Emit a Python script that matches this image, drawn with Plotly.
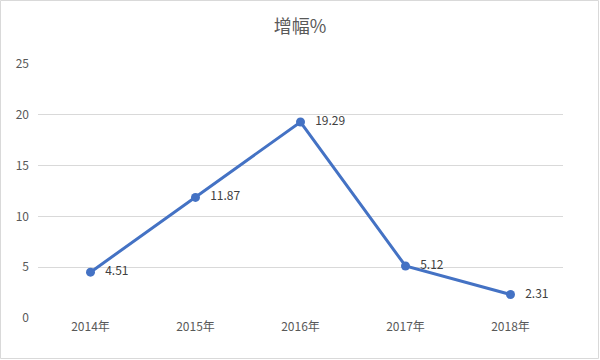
import plotly.graph_objects as go

categories = ["2014年", "2015年", "2016年", "2017年", "2018年"]
values = [4.51, 11.87, 19.29, 5.12, 2.31]
labels = ["4.51", "11.87", "19.29", "5.12", "2.31"]
title_text = "增幅%"

FONT = "Noto Sans CJK SC, Microsoft YaHei, sans-serif"
W, H = 600, 360
ml, mr, mt, mb = 38, 37, 64, 42
pw, ph = W - ml - mr, H - mt - mb

fig = go.Figure()
fig.add_trace(go.Scatter(
    x=categories, y=values,
    mode="lines+markers+text",
    text=["   " + t for t in labels],
    textposition="middle right",
    textfont=dict(family=FONT, size=12, color="#404040"),
    line=dict(color="#4472C4", width=3),
    marker=dict(color="#4472C4", size=9),
    cliponaxis=False,
    hoverinfo="skip",
))

fig.update_layout(
    width=W, height=H,
    margin=dict(l=ml, r=mr, t=mt, b=mb),
    paper_bgcolor="white", plot_bgcolor="white",
    showlegend=False,
    title=dict(text=title_text, x=0.5, xanchor="center", y=1 - 27 / H, yanchor="middle",
               font=dict(family=FONT, size=18, color="#595959")),
    xaxis=dict(type="category", range=[-0.5, 4.5], showgrid=False, zeroline=False,
               showline=False, ticks="", tickfont=dict(family=FONT, size=12, color="#595959")),
    yaxis=dict(range=[0, 25], dtick=5, showgrid=True, gridcolor="#D9D9D9", gridwidth=1,
               zeroline=False, showline=False, ticks="", ticklabelstandoff=8,
               tickfont=dict(family=FONT, size=12, color="#595959")),
    shapes=[dict(type="rect", xref="paper", yref="paper",
                 x0=-(ml - 0.5) / pw, x1=1 + (mr - 1.5) / pw,
                 y0=-(mb - 1.5) / ph, y1=1 + (mt - 0.5) / ph,
                 line=dict(color="#D9D9D9", width=1), layer="below")],
)

fig.write_html("out.html")
